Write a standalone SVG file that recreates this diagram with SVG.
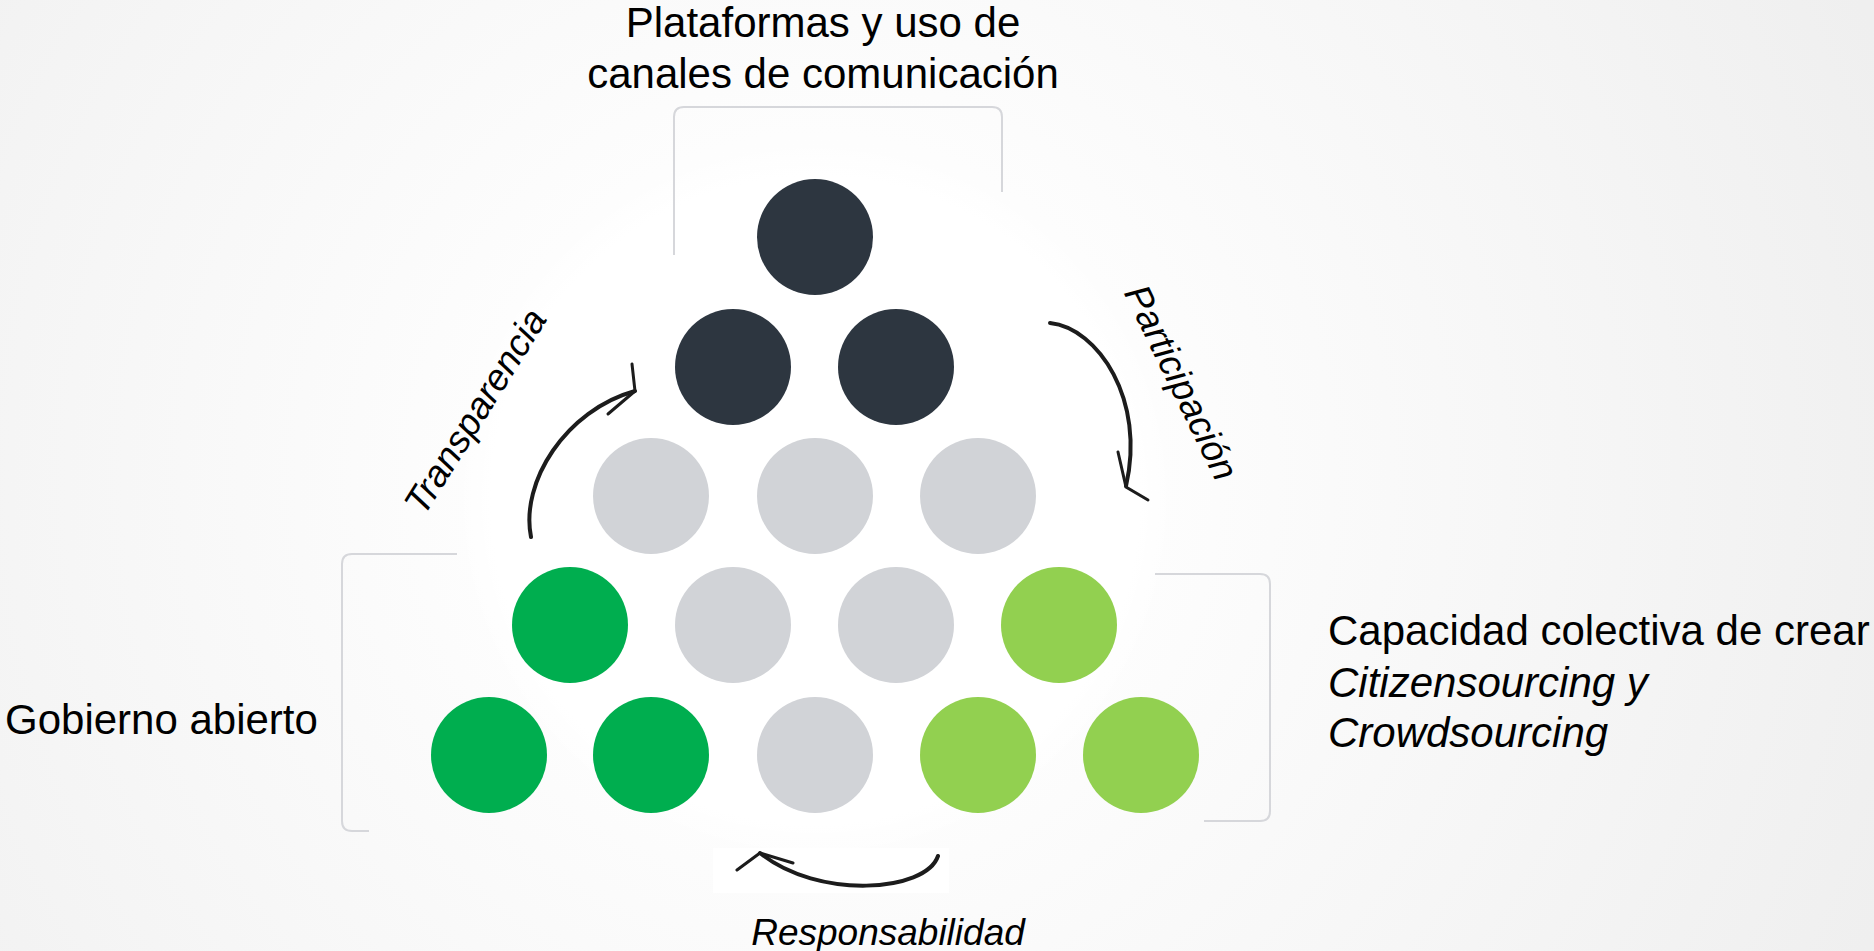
<svg xmlns="http://www.w3.org/2000/svg" width="1874" height="951" viewBox="0 0 1874 951">
  <defs>
    <radialGradient id="bg" cx="815" cy="480" r="1150" gradientUnits="userSpaceOnUse">
      <stop offset="0" stop-color="#ffffff"/>
      <stop offset="0.3" stop-color="#fdfdfd"/>
      <stop offset="1" stop-color="#efefef"/>
    </radialGradient>
    <radialGradient id="disc" cx="815" cy="500" r="360" gradientUnits="userSpaceOnUse">
      <stop offset="0" stop-color="#ffffff"/>
      <stop offset="0.9" stop-color="#ffffff"/>
      <stop offset="1" stop-color="#ffffff" stop-opacity="0"/>
    </radialGradient>
  </defs>
  <style>
    .dark { fill: #2d3640; }
    .grey { fill: #d1d3d7; }
    .green { fill: #00ae4f; }
    .lgreen { fill: #92d050; }
    .bracket { fill: none; stroke: #d6d7db; stroke-width: 2; }
    .lbl { font-family: "Liberation Sans", Arial, sans-serif; font-size: 42px; fill: #000; }
    .sm { font-family: "Liberation Sans", Arial, sans-serif; font-size: 37px; font-style: italic; fill: #000; }
    .it { font-style: italic; }
    .arrow { fill: none; stroke: #1c1c1c; stroke-width: 4; stroke-linecap: round; stroke-linejoin: round; }
    .head { fill: none; stroke: #1c1c1c; stroke-width: 3; stroke-linecap: round; stroke-linejoin: miter; }
  </style>

  <rect x="0" y="0" width="1874" height="951" fill="url(#bg)"/>
  <circle cx="815" cy="500" r="370" fill="url(#disc)"/>

  <g id="brackets">
    <path class="bracket" d="M674,255 L674,117 Q674,107 684,107 L992,107 Q1002,107 1002,117 L1002,192"/>
    <path class="bracket" d="M457,554 L352,554 Q342,554 342,564 L342,821 Q342,831 352,831 L369,831"/>
    <path class="bracket" d="M1155,574 L1260,574 Q1270,574 1270,584 L1270,811 Q1270,821 1260,821 L1204,821"/>
  </g>

  <g id="connectors">
    <rect x="713" y="848" width="236" height="45" fill="#ffffff"/>
    <g id="arrow-transparencia">
      <path class="arrow" d="M531,537 C520,482 566,410 635,391"/>
      <polyline class="head" points="632,364 635,391 608,414"/>
    </g>
    <g id="arrow-participacion">
      <path class="arrow" d="M1050,323 C1098,328 1146,400 1126,486"/>
      <polyline class="head" points="1118,452 1126,487 1148,500"/>
    </g>
    <g id="arrow-responsabilidad">
      <path class="arrow" d="M938,856 C926,892 818,900 760,853"/>
      <polyline class="head" points="737,870 760,853 793,863"/>
    </g>
  </g>

  <g id="nodes">
    <g id="node-r1-1"><circle class="dark" cx="815" cy="237" r="58"/></g>
    <g id="node-r2-1"><circle class="dark" cx="733" cy="367" r="58"/></g>
    <g id="node-r2-2"><circle class="dark" cx="896" cy="367" r="58"/></g>
    <g id="node-r3-1"><circle class="grey" cx="651" cy="496" r="58"/></g>
    <g id="node-r3-2"><circle class="grey" cx="815" cy="496" r="58"/></g>
    <g id="node-r3-3"><circle class="grey" cx="978" cy="496" r="58"/></g>
    <g id="node-r4-1"><circle class="green" cx="570" cy="625" r="58"/></g>
    <g id="node-r4-2"><circle class="grey" cx="733" cy="625" r="58"/></g>
    <g id="node-r4-3"><circle class="grey" cx="896" cy="625" r="58"/></g>
    <g id="node-r4-4"><circle class="lgreen" cx="1059" cy="625" r="58"/></g>
    <g id="node-r5-1"><circle class="green" cx="489" cy="755" r="58"/></g>
    <g id="node-r5-2"><circle class="green" cx="651" cy="755" r="58"/></g>
    <g id="node-r5-3"><circle class="grey" cx="815" cy="755" r="58"/></g>
    <g id="node-r5-4"><circle class="lgreen" cx="978" cy="755" r="58"/></g>
    <g id="node-r5-5"><circle class="lgreen" cx="1141" cy="755" r="58"/></g>
  </g>

  <g id="labels">
    <text class="lbl" x="823" y="37" text-anchor="middle">Plataformas y uso de</text>
    <text class="lbl" x="823" y="88" text-anchor="middle">canales de comunicación</text>
    <text class="lbl" x="5" y="734">Gobierno abierto</text>
    <text class="lbl" x="1328" y="645">Capacidad colectiva de crear</text>
    <text class="lbl it" x="1328" y="697">Citizensourcing y</text>
    <text class="lbl it" x="1328" y="747">Crowdsourcing</text>
    <text class="sm" x="888" y="945" text-anchor="middle">Responsabilidad</text>
    <text class="sm" text-anchor="middle" transform="translate(486,418) rotate(-58)">Transparencia</text>
    <text class="sm" text-anchor="middle" transform="translate(1170,388) rotate(64)">Participación</text>
  </g>
</svg>
